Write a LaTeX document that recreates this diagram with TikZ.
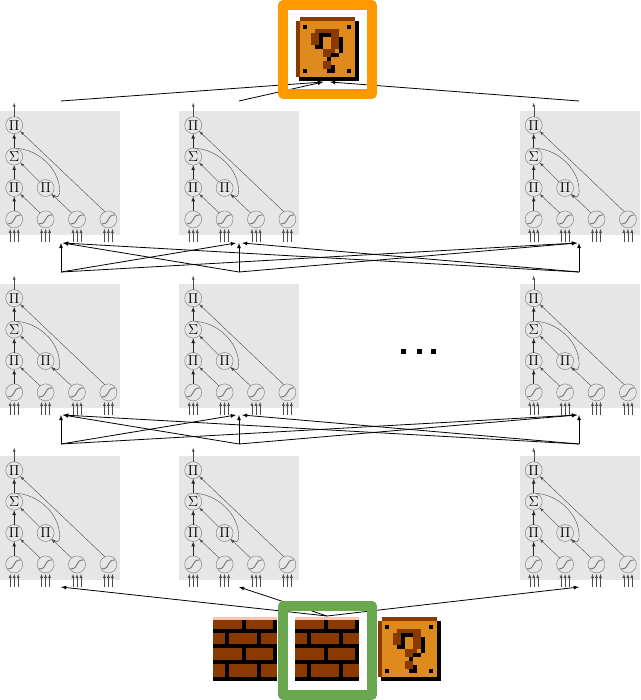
\documentclass[tikz,border=0pt]{standalone}
\usepackage{tikz}
\usetikzlibrary{matrix}
\usetikzlibrary{positioning}

\definecolor{panelgrey}{HTML}{E6E6E6}
\definecolor{brickface}{HTML}{8A3A00}
\definecolor{brickpink}{HTML}{FCC4B4}
\definecolor{blockface}{HTML}{DE8A1C}
\definecolor{frameorange}{HTML}{FF9900}
\definecolor{framegreen}{HTML}{6AA84F}

\newcommand{\brickblock}[2]{
    \begin{scope}[shift={(#1,#2)}]
        \fill[black] (0,0) rectangle (64,64);
        \fill[brickpink] (0,0) rectangle (64,3);
        \foreach \bx/\by/\bw/\bh in {0/3/29/9, 33/3/27/9,
                0/16/12/11, 16/16/28/11, 48/16/16/11,
                0/31/29/12, 33/31/27/12,
                0/47/12/13, 16/47/28/13, 48/47/16/13}
            \fill[brickface] (\bx,\by) rectangle ++(\bw,\bh);
    \end{scope}
}

\newcommand{\questionblock}[2]{
    \begin{scope}[shift={(#1,#2)}]
        \fill[black] (4,4) rectangle (63.5,64);
        \fill[brickface] (5,0) rectangle (60,4);
        \fill[brickface] (1,4) rectangle (5,60);
        \fill[blockface] (5,4) rectangle (60,60);
        \foreach \bx/\by in {8/8, 52/8, 8/52, 52/52}
            \fill[black] (\bx,\by) rectangle ++(4,4);
        \foreach \bx/\by/\bw/\bh in {5/3/6/1, 4/4/2/3, 9/4/2/4, 7/8/3/1,
                7/9/2/1, 7/11/2/2}
            \fill[brickface] (4*\bx,4*\by) rectangle ++(4*\bw,4*\bh);
        \foreach \bx/\by/\bw/\bh in {6/4/3/1, 6/5/1/2, 5/7/2/1, 11/5/1/4,
                9/9/2/1, 8/10/1/1, 9/12/1/2, 8/13/1/1}
            \fill[black] (4*\bx,4*\by) rectangle ++(4*\bw,4*\bh);
    \end{scope}
}

\begin{document}
\begin{tikzpicture}[
    x=1pt, y=-1pt,
    panel/.style={
        fill=panelgrey, inner sep=0, outer sep=0,
        minimum width=120pt, minimum height=124pt
    },
    unit/.style={
        circle, draw=black!55, line width=.4pt,
        minimum size=17pt, inner sep=0, font=\Large
    },
    sigmoid/.style={
        unit,
        path picture={
            \draw[line width=.9pt]
                ([shift={(-6.5pt,-4.5pt)}]path picture bounding box.center)
                .. controls +(9pt,0pt) and +(-9pt,0pt) ..
                ([shift={(6.5pt,4.5pt)}]path picture bounding box.center);
        }
    },
    wire/.style={->,>=latex,line width=.4pt,black!70},
    feed/.style={->,>=latex,line width=.7pt,black!85},
    link/.style={->,>=latex,line width=.8pt},
    bigframe/.style={
        draw, line width=9.5pt, line join=round,
        minimum size=89pt, inner sep=0, outer sep=0
    }
]
\useasboundingbox (0,0) rectangle (640,700);

% the nine grey units
\foreach \y [count=\r] in {111,284,456} {
    \foreach \x [count=\c] in {0,179,519.5} {
        \node[panel,anchor=north west] (box\r\c) at (\x,\y) {};
        \matrix(net\r\c)[anchor=north west, inner sep=0, outer sep=0,
                row sep=14pt, column sep=14pt,
                ampersand replacement=\&] at (\x+5.5,\y+5.5)
        {
            \node[unit] (top\r\c) {$\Pi$}; \& \& \& \\
            \node[unit] (sum\r\c) {$\Sigma$}; \& \& \& \\
            \node[unit] (pa\r\c) {$\Pi$}; \&
            \node[unit] (pb\r\c) {$\Pi$}; \& \& \\
            \node[sigmoid] (sa\r\c) {}; \&
            \node[sigmoid] (sb\r\c) {}; \&
            \node[sigmoid] (sc\r\c) {}; \&
            \node[sigmoid] (sd\r\c) {}; \\
        };
        \draw[wire] (top\r\c.north) -- ([yshift=14pt]top\r\c.north);
        \draw[feed] (sum\r\c.north) -- (top\r\c.south);
        \draw[feed] (pa\r\c.north) -- (sum\r\c.south);
        \draw[feed] (sa\r\c.north) -- (pa\r\c.south);
        \draw[wire] (sb\r\c.130) -- (pa\r\c.-45);
        \draw[wire] (sc\r\c.130) -- (pb\r\c.-45);
        \draw[wire] (pb\r\c.135) -- (sum\r\c.-45);
        \draw[wire] (sd\r\c.115) -- (top\r\c.-45);
        \draw[wire] (sum\r\c.75)
            .. controls +(22pt,-1pt) and +(0pt,22pt) ..
            ([xshift=14pt,yshift=-3pt]pb\r\c.center)
            .. controls +(0pt,-7pt) and +(5pt,-3pt) .. (pb\r\c.-50);
        \foreach \s in {sa,sb,sc,sd} {
            \foreach \d in {-4,0,4} {
                \draw[wire] ([shift={(\d pt,-14.5pt)}]\s\r\c.south)
                    -- ([shift={(\d pt,-1pt)}]\s\r\c.south);
            }
        }
    }
}

% dots in the middle row
\foreach \x [count=\i] in {403.5,419,433.5}
    \fill[black] (\x-2.5,349) rectangle (\x+2.5,354);

% fully connected layers
\foreach \n/\ybase in {1/272,2/444} {
    \coordinate (basea\n) at (61,\ybase);
    \coordinate (baseb\n) at (239,\ybase);
    \coordinate (basec\n) at (579,\ybase);
    \coordinate (tipa\n) at (61,\ybase-29);
    \coordinate (tipb\n) at (239,\ybase-29);
    \coordinate (tipc\n) at (579,\ybase-29);
    \foreach \from/\to/\s in {a/a/0, b/a/2, c/a/2, a/b/-3, b/b/0, c/b/3,
            a/c/-2, b/c/-2, c/c/0}
        \draw[link] (base\from\n) -- ([xshift=\s pt]tip\to\n);
}

% blocks
\questionblock{295}{17}
\brickblock{213}{617}
\brickblock{295}{617}
\questionblock{377}{617}

% out of the top layer, into the bottom layer
\coordinate (outa) at (61,101);
\coordinate (outb) at (239,101);
\coordinate (outc) at (579,101);
\coordinate (qleft) at (323,82);
\coordinate (qright) at (330,82);
\coordinate (ina) at (61,587);
\coordinate (inb) at (239,587);
\coordinate (inc) at (579,587);
\coordinate (brick) at (327,616);
\draw[link] (outa) -- (qleft);
\draw[link] (outb) -- (qleft);
\draw[link] (outc) -- (qright);
\draw[link] (brick) -- (ina);
\draw[link] (brick) -- (inb);
\draw[link] (brick) -- (inc);

% frames go over the lines
\node[bigframe,draw=frameorange] (frametop) at (327.5,49.5) {};
\node[bigframe,draw=framegreen] (framebottom) at (327.5,650.5) {};
\end{tikzpicture}
\end{document}
